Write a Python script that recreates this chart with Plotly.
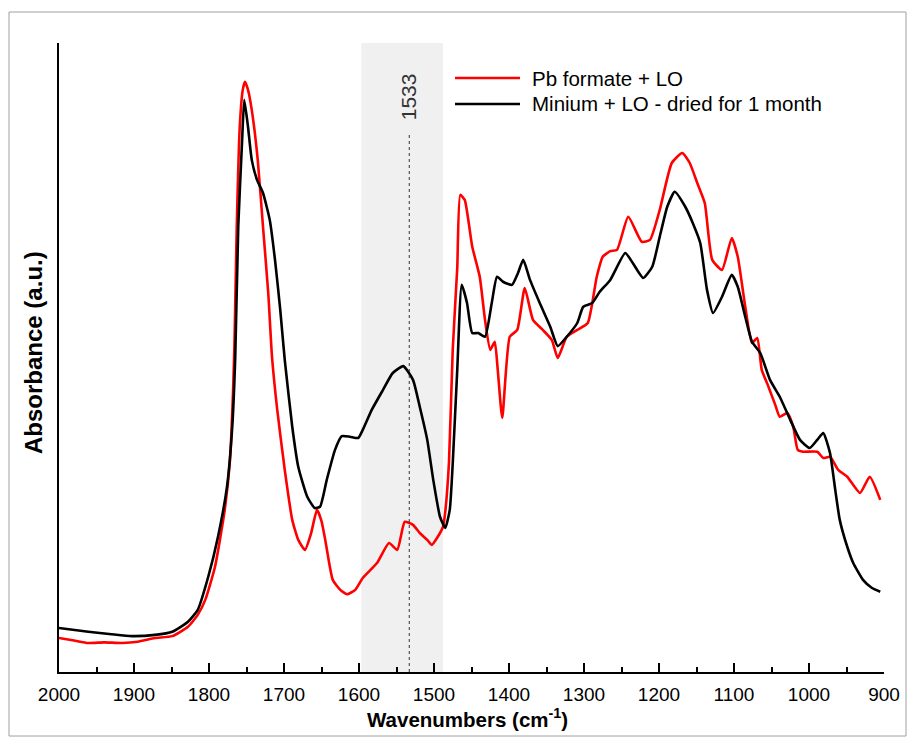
import plotly.graph_objects as go

# FTIR spectra (absorbance, arbitrary units) vs wavenumber (cm-1)
pb_formate_wn = [2000, 1980, 1961, 1940, 1916, 1895, 1872, 1849, 1828, 1815, 1805, 1792,
                 1779, 1772, 1768, 1766, 1763, 1759, 1755, 1752, 1748, 1743, 1735, 1728,
                 1721, 1716, 1709, 1699, 1689, 1681, 1672, 1664, 1656, 1650, 1645, 1635,
                 1625, 1616, 1605, 1595, 1576, 1560, 1549, 1539, 1528, 1519, 1509, 1503,
                 1496, 1488, 1485, 1480, 1475, 1469, 1465, 1459, 1449, 1439, 1432, 1425,
                 1419, 1415, 1409, 1399, 1389, 1379, 1368, 1355, 1343, 1335, 1323, 1309,
                 1295, 1283, 1275, 1265, 1256, 1241, 1223, 1212, 1199, 1183, 1169, 1159,
                 1149, 1139, 1129, 1116, 1103, 1095, 1085, 1076, 1069, 1063, 1055, 1045,
                 1039, 1029, 1021, 1015, 1008, 989, 981, 972, 961, 949, 932, 919, 905]
pb_formate_abs = [0.048, 0.044, 0.040, 0.041, 0.040, 0.042, 0.048, 0.051, 0.066, 0.085, 0.109, 0.162,
                  0.253, 0.333, 0.440, 0.520, 0.706, 0.866, 0.925, 0.938, 0.925, 0.893, 0.813, 0.706,
                  0.600, 0.498, 0.413, 0.317, 0.237, 0.205, 0.189, 0.215, 0.253, 0.235, 0.205, 0.141,
                  0.125, 0.118, 0.125, 0.144, 0.168, 0.200, 0.189, 0.234, 0.229, 0.216, 0.205, 0.197,
                  0.208, 0.226, 0.250, 0.330, 0.510, 0.640, 0.757, 0.749, 0.674, 0.626, 0.557, 0.509,
                  0.522, 0.477, 0.400, 0.530, 0.541, 0.608, 0.557, 0.541, 0.525, 0.496, 0.530, 0.541,
                  0.552, 0.626, 0.658, 0.667, 0.669, 0.722, 0.682, 0.685, 0.733, 0.808, 0.824, 0.808,
                  0.776, 0.744, 0.653, 0.637, 0.688, 0.658, 0.578, 0.520, 0.528, 0.477, 0.453, 0.421,
                  0.402, 0.408, 0.386, 0.349, 0.346, 0.346, 0.336, 0.338, 0.317, 0.306, 0.280, 0.306, 0.269]

minium_wn = [2000, 1961, 1930, 1903, 1872, 1849, 1828, 1815, 1801, 1788, 1776, 1769, 1765,
             1761, 1756, 1753, 1748, 1743, 1736, 1728, 1719, 1712, 1705, 1699, 1689, 1681,
             1669, 1659, 1652, 1643, 1632, 1623, 1612, 1601, 1595, 1583, 1568, 1555, 1541,
             1528, 1519, 1509, 1501, 1492, 1485, 1479, 1475, 1469, 1463, 1456, 1449, 1441,
             1432, 1423, 1416, 1408, 1396, 1388, 1381, 1372, 1359, 1345, 1335, 1323, 1309,
             1301, 1289, 1279, 1265, 1245, 1235, 1221, 1209, 1199, 1189, 1179, 1165, 1155,
             1145, 1136, 1128, 1116, 1103, 1095, 1085, 1076, 1065, 1052, 1039, 1025, 1012,
             999, 989, 981, 972, 965, 959, 949, 941, 928, 916, 905]
minium_abs = [0.064, 0.058, 0.054, 0.051, 0.053, 0.058, 0.074, 0.093, 0.146, 0.210, 0.290, 0.386, 0.498,
              0.706, 0.840, 0.909, 0.866, 0.813, 0.781, 0.760, 0.717, 0.653, 0.573, 0.493, 0.386, 0.322,
              0.274, 0.256, 0.258, 0.301, 0.349, 0.371, 0.370, 0.368, 0.381, 0.413, 0.445, 0.472, 0.483,
              0.461, 0.418, 0.365, 0.301, 0.242, 0.224, 0.253, 0.328, 0.477, 0.613, 0.584, 0.536, 0.536,
              0.530, 0.584, 0.626, 0.618, 0.613, 0.632, 0.653, 0.621, 0.584, 0.546, 0.515, 0.530, 0.552,
              0.578, 0.584, 0.602, 0.621, 0.664, 0.648, 0.624, 0.642, 0.690, 0.738, 0.762, 0.738, 0.712,
              0.680, 0.605, 0.568, 0.594, 0.629, 0.610, 0.562, 0.522, 0.504, 0.461, 0.434, 0.397, 0.365,
              0.352, 0.365, 0.376, 0.344, 0.285, 0.237, 0.194, 0.168, 0.141, 0.128, 0.122]

series_names = ["Pb formate + LO", "Minium + LO - dried for 1 month"]
series_colors = ["#ff0000", "#000000"]

band_range = [1597, 1488]   # highlighted carboxylate region
marker_wn = 1533
x_ticks = [2000, 1900, 1800, 1700, 1600, 1500, 1400, 1300, 1200, 1100, 1000, 900]

FONT = "Liberation Sans, Arial, sans-serif"
W, H = 914, 738
ML, MR, MT, MB = 59, 30, 43, 66
PW, PH = W - ML - MR, H - MT - MB


def px(x):
    return (x - ML) / PW


def py(y):
    return (H - MB - y) / PH


fig = go.Figure()
for wn, ab, name, col in [(pb_formate_wn, pb_formate_abs, series_names[0], series_colors[0]),
                          (minium_wn, minium_abs, series_names[1], series_colors[1])]:
    fig.add_trace(go.Scatter(x=wn, y=ab, mode="lines", name=name,
                             line=dict(color=col, width=2.6, shape="spline", smoothing=0.5),
                             showlegend=False))

# shaded band and marker line
fig.add_shape(type="rect", xref="x", yref="paper", x0=band_range[0], x1=band_range[1],
              y0=0, y1=1, fillcolor="#f0f0f0", line=dict(width=0), layer="below")
fig.add_shape(type="line", xref="x", yref="paper", x0=marker_wn, x1=marker_wn,
              y0=0, y1=py(132), line=dict(color="#333333", width=1, dash="dot"))
fig.add_annotation(x=marker_wn, xref="x", y=py(97), yref="paper", text=str(marker_wn),
                   textangle=-90, showarrow=False, xanchor="center", yanchor="middle",
                   font=dict(family=FONT, size=21, color="#333333"))

# legend
for i, (name, col) in enumerate(zip(series_names, series_colors)):
    yy = 78 + i * 26
    fig.add_shape(type="line", xref="paper", yref="paper", x0=px(455), x1=px(520),
                  y0=py(yy), y1=py(yy), line=dict(color=col, width=2.6))
    fig.add_annotation(x=px(530), y=py(yy), xref="paper", yref="paper", text=name,
                       xanchor="left", yanchor="middle", showarrow=False,
                       font=dict(family=FONT, size=20.5, color="black"))

# axis titles
fig.add_annotation(x=px(467), y=py(718), xref="paper", yref="paper",
                   text="<b>Wavenumbers (cm<sup>-1</sup>)</b>", showarrow=False,
                   xanchor="center", yanchor="middle",
                   font=dict(family=FONT, size=20.5, color="black"))
fig.add_annotation(x=px(33), y=py(353), xref="paper", yref="paper",
                   text="<b>Absorbance (a.u.)</b>", textangle=-90, showarrow=False,
                   xanchor="center", yanchor="middle",
                   font=dict(family=FONT, size=24, color="black"))

# outer frame
fig.add_shape(type="rect", xref="paper", yref="paper", x0=px(9), x1=px(906),
              y0=py(736), y1=py(12), line=dict(color="#a0a0a0", width=1), layer="below")

fig.update_layout(
    width=W, height=H, margin=dict(l=ML, r=MR, t=MT, b=MB),
    plot_bgcolor="white", paper_bgcolor="white",
    font=dict(family=FONT, size=19, color="black"),
    xaxis=dict(range=[2000, 900], tickvals=x_ticks, ticks="inside", ticklen=9, tickwidth=2,
               tickcolor="black", showline=True, linecolor="black", linewidth=2,
               showgrid=False, zeroline=False, ticklabelstandoff=4,
               minor=dict(dtick=50, ticks="inside", ticklen=5, tickwidth=2, tickcolor="black",
                          showgrid=False),
               tickfont=dict(family=FONT, size=19, color="black")),
    yaxis=dict(range=[-0.0064, 1.0], showticklabels=False, ticks="", showline=True,
               linecolor="black", linewidth=2, showgrid=False, zeroline=False),
)

fig.write_html("out.html")
